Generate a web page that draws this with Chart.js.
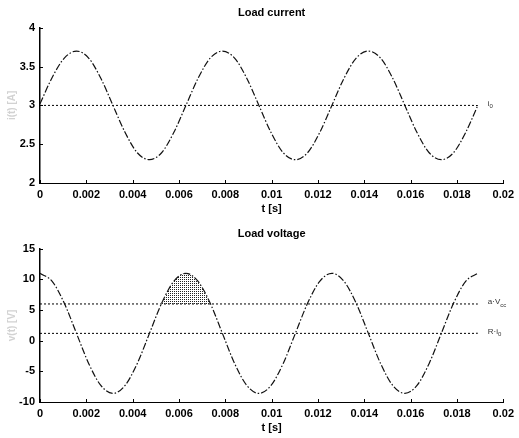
<!DOCTYPE html>
<html>
<head>
<meta charset="utf-8">
<script src="https://cdn.jsdelivr.net/npm/chart.js@4"></script>
<style>
    body { margin: 0; background: #fff; }
    canvas { position: absolute; left: 0; }
</style>
</head>
<body>
<canvas id="current" width="519" height="219" style="top:0"></canvas>
<canvas id="voltage" width="519" height="219" style="top:219px"></canvas>
<script>
// sample times [s]
const times = [0, 0.000525, 0.00105, 0.001575, 0.0021, 0.002625, 0.00315, 0.003675, 0.0042,
    0.004725, 0.00525, 0.005775, 0.0063, 0.006825, 0.00735, 0.007875, 0.0084, 0.008925, 0.00945,
    0.009975, 0.0105, 0.011025, 0.01155, 0.012075, 0.0126, 0.013125, 0.01365, 0.014175, 0.0147,
    0.015225, 0.01575, 0.016275, 0.0168, 0.017325, 0.01785, 0.018375, 0.0189];

const current = [3.02, 3.36, 3.61, 3.70, 3.61, 3.35, 3.00, 2.65, 2.39, 2.30, 2.39, 2.65,
    3.00, 3.35, 3.61, 3.70, 3.61, 3.35, 3.00, 2.65, 2.39, 2.30, 2.39, 2.65,
    3.00, 3.35, 3.61, 3.70, 3.61, 3.35, 3.00, 2.65, 2.39, 2.30, 2.39, 2.65, 3.00];

const voltage = [11.0, 9.69, 6.10, 1.20, -3.70, -7.29, -8.60, -7.29, -3.70, 1.20, 6.10, 9.69,
    11.0, 9.69, 6.10, 1.20, -3.70, -7.29, -8.60, -7.29, -3.70, 1.20, 6.10, 9.69,
    11.0, 9.69, 6.10, 1.20, -3.70, -7.29, -8.60, -7.29, -3.70, 1.20, 6.10, 9.69, 11.0];

// horizontal reference levels
const currentLevels = [3.0];
const currentLevelLabels = [['i', '0']];
const voltageLevels = [6.0, 1.2];
const voltageLevelLabels = [['a·V', 'cc'], ['R·i', '0']];
const levelEnd = 0.0189;

// shaded part of the second voltage peak (indices into times/voltage)
const hatchFrom = 10;
const hatchTo = 14;

const xTicks = [0, 0.002, 0.004, 0.006, 0.008, 0.01, 0.012, 0.014, 0.016, 0.018, 0.02];

const FONT = "'Liberation Sans', Arial, sans-serif";

function hatchPattern() {
    const c = document.createElement('canvas');
    c.width = 4;
    c.height = 4;
    const g = c.getContext('2d');
    g.fillStyle = '#222';
    g.fillRect(0, 0, 1, 1);
    g.fillRect(2, 2, 1, 1);
    g.fillRect(2, 0, 1, 1);
    g.fillRect(0, 2, 1, 1);
    return g.createPattern(c, 'repeat');
}

function xy(xs, ys) {
    return xs.map((x, i) => ({x: x, y: ys[i]}));
}

const innerTicks = {
    id: 'innerTicks',
    afterDraw(chart, args, opts) {
        const ctx = chart.ctx;
        const xs = chart.scales.x, ys = chart.scales.y;
        const a = chart.chartArea;
        ctx.save();
        ctx.strokeStyle = '#000';
        ctx.lineWidth = 1;
        ctx.beginPath();
        xTicks.forEach(v => {
            const px = Math.round(xs.getPixelForValue(v)) + 0.5;
            ctx.moveTo(px, a.bottom);
            ctx.lineTo(px, a.bottom - 3);
        });
        ys.ticks.forEach(t => {
            const py = Math.round(ys.getPixelForValue(t.value)) + 0.5;
            ctx.moveTo(a.left, py);
            ctx.lineTo(a.left + 3, py);
        });
        ctx.stroke();

        // labels at the right end of the level lines
        (opts.levels || []).forEach((lv, i) => {
            const lab = opts.labels[i];
            const px = xs.getPixelForValue(levelEnd) + 10;
            const py = ys.getPixelForValue(lv) - 2;
            ctx.fillStyle = '#333';
            ctx.textBaseline = 'middle';
            ctx.font = '8px ' + FONT;
            ctx.fillText(lab[0], px, py);
            const w = ctx.measureText(lab[0]).width;
            ctx.font = '6px ' + FONT;
            ctx.fillText(lab[1], px + w, py + 3);
        });
        ctx.restore();
    }
};

function levelSets(levels) {
    return levels.map(lv => ({
        data: [{x: 0, y: lv}, {x: levelEnd, y: lv}],
        borderColor: '#000',
        borderWidth: 1,
        borderDash: [2, 2],
        pointRadius: 0,
        fill: false
    }));
}

function options(title, titleTop, yTitle, ymin, ymax, ystep, levels, labels) {
    return {
        responsive: false,
        animation: false,
        layout: {padding: {left: 0, right: 11, top: 0, bottom: 0}},
        plugins: {
            legend: {display: false},
            tooltip: {enabled: false},
            title: {
                display: true,
                text: title,
                fullSize: false,
                color: '#000',
                font: {family: FONT, size: 11, weight: 'bold'},
                padding: {top: titleTop, bottom: 8.6}
            },
            innerTicks: {levels: levels, labels: labels}
        },
        scales: {
            x: {
                type: 'linear',
                min: 0,
                max: 0.02,
                afterBuildTicks: s => { s.ticks = xTicks.map(v => ({value: v})); },
                afterFit: s => { s.height = 36; },
                grid: {display: false, drawTicks: false},
                border: {display: true, color: '#000', width: 1, dash: [2, 2]},
                ticks: {
                    padding: 5,
                    color: '#000',
                    font: {family: FONT, size: 11, weight: 'bold'},
                    maxRotation: 0,
                    autoSkip: false,
                    callback: v => String(+v.toFixed(4))
                },
                title: {
                    display: true,
                    text: 't [s]',
                    color: '#000',
                    font: {family: FONT, size: 11, weight: 'bold'},
                    padding: {top: 1, bottom: 3}
                }
            },
            y: {
                min: ymin,
                max: ymax,
                afterFit: s => { s.width = 40; },
                grid: {display: false, drawTicks: false},
                border: {display: true, color: '#000', width: 1.5},
                ticks: {
                    stepSize: ystep,
                    padding: 5,
                    color: '#000',
                    font: {family: FONT, size: 11, weight: 'bold'},
                    callback: v => String(v)
                },
                title: {
                    display: true,
                    text: yTitle,
                    color: '#d2d2d2',
                    font: {family: FONT, size: 10, weight: 'bold'},
                    padding: {top: 6, bottom: 0}
                }
            }
        }
    };
}

const curveStyle = {
    borderColor: '#111',
    borderWidth: 1.2,
    borderDash: [7, 2, 1.5, 2],
    pointRadius: 0,
    cubicInterpolationMode: 'monotone',
    fill: false
};

new Chart(document.getElementById('current'), {
    type: 'line',
    data: {
        datasets: [Object.assign({data: xy(times, current)}, curveStyle)]
            .concat(levelSets(currentLevels))
    },
    options: options('Load current', 6, 'i(t) [A]', 2, 4, 0.5, currentLevels, currentLevelLabels),
    plugins: [innerTicks]
});

new Chart(document.getElementById('voltage'), {
    type: 'line',
    data: {
        datasets: [
            {
                data: xy(times.slice(hatchFrom, hatchTo + 1), voltage.slice(hatchFrom, hatchTo + 1)),
                borderWidth: 0,
                borderColor: 'rgba(0,0,0,0)',
                pointRadius: 0,
                cubicInterpolationMode: 'monotone',
                fill: {target: {value: voltageLevels[0]}, above: hatchPattern(), below: 'rgba(0,0,0,0)'}
            },
            Object.assign({data: xy(times, voltage)}, curveStyle)
        ].concat(levelSets(voltageLevels))
    },
    options: options('Load voltage', 8, 'v(t) [V]', -10, 15, 5, voltageLevels, voltageLevelLabels),
    plugins: [innerTicks]
});
</script>
</body>
</html>
